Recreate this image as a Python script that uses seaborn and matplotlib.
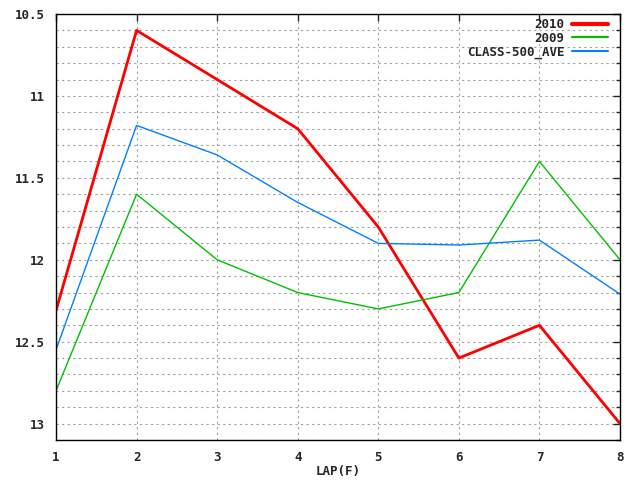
import numpy as np
import pandas as pd
import matplotlib
matplotlib.use("Agg")
import matplotlib.pyplot as plt
from matplotlib.ticker import MultipleLocator
import seaborn as sns

laps = [1, 2, 3, 4, 5, 6, 7, 8]
times_2010 = [12.31, 10.60, 10.90, 11.20, 11.80, 12.60, 12.40, 13.00]
times_2009 = [12.80, 11.60, 12.00, 12.20, 12.30, 12.20, 11.40, 12.00]
class_ave = [12.55, 11.18, 11.36, 11.65, 11.90, 11.91, 11.88, 12.21]

df = pd.DataFrame({
    "LAP": laps * 3,
    "time": times_2010 + times_2009 + class_ave,
    "series": ["2010"] * 8 + ["2009"] * 8 + ["CLASS-500_AVE"] * 8,
})

sns.set_style("white")
plt.rcParams["font.family"] = ["DejaVu Sans Mono", "DejaVu Sans"]
plt.rcParams["font.weight"] = "bold"

fig = plt.figure(figsize=(6.4, 4.8), dpi=100)
ax = fig.add_axes([56 / 640, 40 / 480, 564 / 640, 426 / 480])

palette = {"2010": "#ff0000", "2009": "#00c000", "CLASS-500_AVE": "#0080ff"}
sizes = {"2010": 2.0, "2009": 1.0, "CLASS-500_AVE": 1.0}
sns.lineplot(data=df, x="LAP", y="time", hue="series", palette=palette,
             size="series", sizes=sizes, ax=ax, legend=False)

for name in ["2010", "2009", "CLASS-500_AVE"]:
    ax.plot([], [], color=palette[name], lw=sizes[name] * 1.5, label=name)

ax.set_xlim(1, 8)
ax.set_ylim(13.1, 10.5)
ax.xaxis.set_major_locator(MultipleLocator(1))
ax.yaxis.set_minor_locator(MultipleLocator(0.1))
ax.set_yticks([10.5, 11, 11.5, 12, 12.5, 13])
ax.set_yticklabels(["10.5", "11", "11.5", "12", "12.5", "13"])

ax.grid(True, which="both", axis="y", color="#a0a0a0", linestyle=(0, (2, 3)), lw=0.8)
ax.grid(True, which="major", axis="x", color="#a0a0a0", linestyle=(0, (2, 3)), lw=0.8)
ax.tick_params(which="both", direction="in", top=True, right=True,
               length=5, width=1, labelsize=9, pad=8)
ax.tick_params(which="minor", length=3)
for s in ax.spines.values():
    s.set_color("black")
    s.set_linewidth(1)

ax.set_xlabel("LAP(F)", fontsize=9, fontweight="bold", labelpad=1)
ax.set_ylabel("")

leg = ax.legend(loc="upper right", bbox_to_anchor=(608 / 640, 1 - 18 / 480),
                bbox_transform=fig.transFigure, frameon=False, fontsize=9,
                handlelength=2.9, handletextpad=0.6, markerfirst=False,
                borderaxespad=0, borderpad=0, labelspacing=0.05)
for t in leg.get_texts():
    t.set_ha("right")

fig.savefig("out.png", dpi=100)
